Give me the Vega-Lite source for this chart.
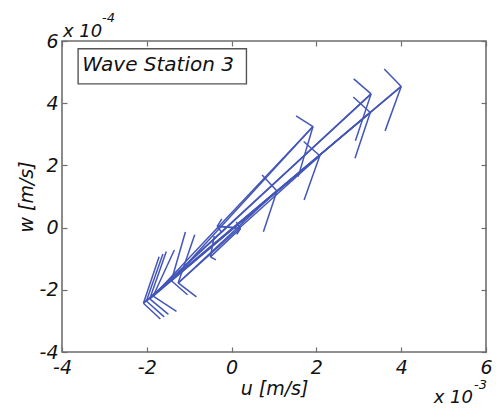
{
  "$schema": "https://vega.github.io/schema/vega-lite/v6.json",
  "width": 424,
  "height": 311,
  "autosize": "none",
  "padding": {"left": 62, "top": 41, "right": 10, "bottom": 58},
  "background": "white",
  "config": {
    "view": {"stroke": "#6e6e6e", "strokeWidth": 1.6},
    "axis": {
      "grid": false, "domain": false, "tickColor": "#6e6e6e", "tickWidth": 1.2, "tickSize": -5,
      "labelFont": "DejaVu Sans", "labelFontStyle": "italic", "labelFontSize": 19, "labelColor": "#111",
      "titleFont": "DejaVu Sans", "titleFontStyle": "italic", "titleFontWeight": "normal", "titleFontSize": 19, "titleColor": "#111",
      "labelFlush": false, "labelOverlap": false, "labelExpr": "'' + datum.value"
    }
  },
  "datasets": {
    "arrows": [
      {"x1":0.05,"y1":0.0,"x2":-0.34,"y2":0.04,"ax":-0.23,"ay":0.28,"bx":-0.24,"by":-0.14},
      {"x1":-0.34,"y1":0.04,"x2":0.21,"y2":-0.03,"ax":0.11,"ay":0.18,"bx":0.12,"by":-0.22},
      {"x1":0.21,"y1":-0.03,"x2":-0.50,"y2":-0.94,"ax":-0.41,"ay":-0.27,"bx":-0.37,"by":-1.04},
      {"x1":-2.05,"y1":-2.40,"x2":1.07,"y2":1.18,"ax":0.72,"ay":1.69,"bx":0.75,"by":-0.13},
      {"x1":1.07,"y1":1.18,"x2":-1.26,"y2":-1.78,"ax":-0.87,"ay":-0.23,"bx":-0.83,"by":-2.23},
      {"x1":-1.26,"y1":-1.78,"x2":2.08,"y2":2.31,"ax":1.70,"ay":2.77,"bx":1.71,"by":0.89},
      {"x1":2.08,"y1":2.31,"x2":-1.42,"y2":-1.71,"ax":-1.09,"ay":-0.14,"bx":-1.04,"by":-2.16},
      {"x1":-1.42,"y1":-1.71,"x2":1.92,"y2":3.25,"ax":1.52,"ay":3.59,"bx":1.57,"by":1.64},
      {"x1":1.92,"y1":3.25,"x2":-1.85,"y2":-2.20,"ax":-1.35,"ay":-0.72,"bx":-1.30,"by":-2.69},
      {"x1":-1.85,"y1":-2.20,"x2":3.27,"y2":3.70,"ax":2.87,"ay":4.20,"bx":2.91,"by":2.23},
      {"x1":3.27,"y1":3.70,"x2":-1.93,"y2":-2.29,"ax":-1.54,"ay":-0.77,"bx":-1.49,"by":-2.79},
      {"x1":-1.93,"y1":-2.29,"x2":3.29,"y2":4.30,"ax":2.88,"ay":4.78,"bx":2.92,"by":2.79},
      {"x1":3.29,"y1":4.30,"x2":-2.01,"y2":-2.36,"ax":-1.62,"ay":-0.85,"bx":-1.59,"by":-2.87},
      {"x1":-2.01,"y1":-2.36,"x2":4.00,"y2":4.54,"ax":3.60,"ay":5.10,"bx":3.62,"by":3.11},
      {"x1":4.00,"y1":4.54,"x2":-2.08,"y2":-2.43,"ax":-1.71,"ay":-0.94,"bx":-1.68,"by":-2.94}
    ],
    "one": [{"label": "Wave Station 3"}]
  },
  "resolve": {"axis": {"x": "independent", "y": "independent"}},
  "layer": [
    {
      "data": {"name": "arrows"},
      "mark": {"type": "rule", "color": "#4356b8", "strokeWidth": 1.5},
      "encoding": {
        "x": {"field": "x1", "type": "quantitative", "scale": {"domain": [-4, 6], "nice": false, "zero": false},
              "axis": {"orient": "bottom", "values": [-4, -2, 0, 2, 4, 6], "title": "u [m/s]", "labelPadding": 11, "titlePadding": 2}},
        "y": {"field": "y1", "type": "quantitative", "scale": {"domain": [-4, 6], "nice": false, "zero": false},
              "axis": {"orient": "left", "values": [-4, -2, 0, 2, 4, 6], "title": "w [m/s]", "labelPadding": 9, "titlePadding": 3}},
        "x2": {"field": "x2"},
        "y2": {"field": "y2"}
      }
    },
    {
      "data": {"name": "arrows"},
      "mark": {"type": "rule", "color": "#4356b8", "strokeWidth": 1.5},
      "encoding": {
        "x": {"field": "x2", "type": "quantitative", "axis": null},
        "y": {"field": "y2", "type": "quantitative", "axis": null},
        "x2": {"field": "ax"},
        "y2": {"field": "ay"}
      }
    },
    {
      "data": {"name": "arrows"},
      "mark": {"type": "rule", "color": "#4356b8", "strokeWidth": 1.5},
      "encoding": {
        "x": {"field": "x2", "type": "quantitative", "axis": null},
        "y": {"field": "y2", "type": "quantitative", "axis": null},
        "x2": {"field": "bx"},
        "y2": {"field": "by"}
      }
    },
    {
      "data": {"name": "arrows"},
      "mark": {"type": "rule", "opacity": 0},
      "encoding": {
        "x": {"field": "x1", "type": "quantitative", "axis": {"orient": "top", "values": [-4, -2, 0, 2, 4, 6], "labels": false, "title": null}},
        "y": {"field": "y1", "type": "quantitative", "axis": {"orient": "right", "values": [-4, -2, 0, 2, 4, 6], "labels": false, "title": null}}
      }
    },
    {
      "data": {"name": "one"},
      "mark": {"type": "rect", "fill": "white", "stroke": "#555555", "strokeWidth": 1.4},
      "encoding": {
        "x": {"datum": -3.62, "type": "quantitative", "axis": null},
        "x2": {"datum": 0.35},
        "y": {"datum": 5.75, "type": "quantitative", "axis": null},
        "y2": {"datum": 4.62}
      }
    },
    {
      "data": {"name": "one"},
      "mark": {"type": "text", "align": "left", "baseline": "alphabetic", "font": "DejaVu Sans", "fontStyle": "italic", "fontSize": 20, "color": "#111"},
      "encoding": {
        "text": {"field": "label"},
        "x": {"datum": -3.52, "type": "quantitative", "axis": null},
        "y": {"datum": 5.02, "type": "quantitative", "axis": null}
      }
    },
    {
      "data": {"name": "one"},
      "mark": {"type": "text", "text": "x 10", "align": "left", "baseline": "alphabetic", "font": "DejaVu Sans", "fontStyle": "italic", "fontSize": 18, "color": "#111", "dx": 1, "dy": -4},
      "encoding": {
        "x": {"datum": -4, "type": "quantitative", "axis": null},
        "y": {"datum": 6, "type": "quantitative", "axis": null}
      }
    },
    {
      "data": {"name": "one"},
      "mark": {"type": "text", "text": "-4", "align": "left", "baseline": "alphabetic", "font": "DejaVu Sans", "fontStyle": "italic", "fontSize": 13, "color": "#111", "dx": 40, "dy": -19},
      "encoding": {
        "x": {"datum": -4, "type": "quantitative", "axis": null},
        "y": {"datum": 6, "type": "quantitative", "axis": null}
      }
    },
    {
      "data": {"name": "one"},
      "mark": {"type": "text", "text": "x 10", "align": "right", "baseline": "alphabetic", "font": "DejaVu Sans", "fontStyle": "italic", "fontSize": 18, "color": "#111", "dx": -13, "dy": 51},
      "encoding": {
        "x": {"datum": 6, "type": "quantitative", "axis": null},
        "y": {"datum": -4, "type": "quantitative", "axis": null}
      }
    },
    {
      "data": {"name": "one"},
      "mark": {"type": "text", "text": "-3", "align": "left", "baseline": "alphabetic", "font": "DejaVu Sans", "fontStyle": "italic", "fontSize": 13, "color": "#111", "dx": -12, "dy": 37},
      "encoding": {
        "x": {"datum": 6, "type": "quantitative", "axis": null},
        "y": {"datum": -4, "type": "quantitative", "axis": null}
      }
    }
  ]
}
